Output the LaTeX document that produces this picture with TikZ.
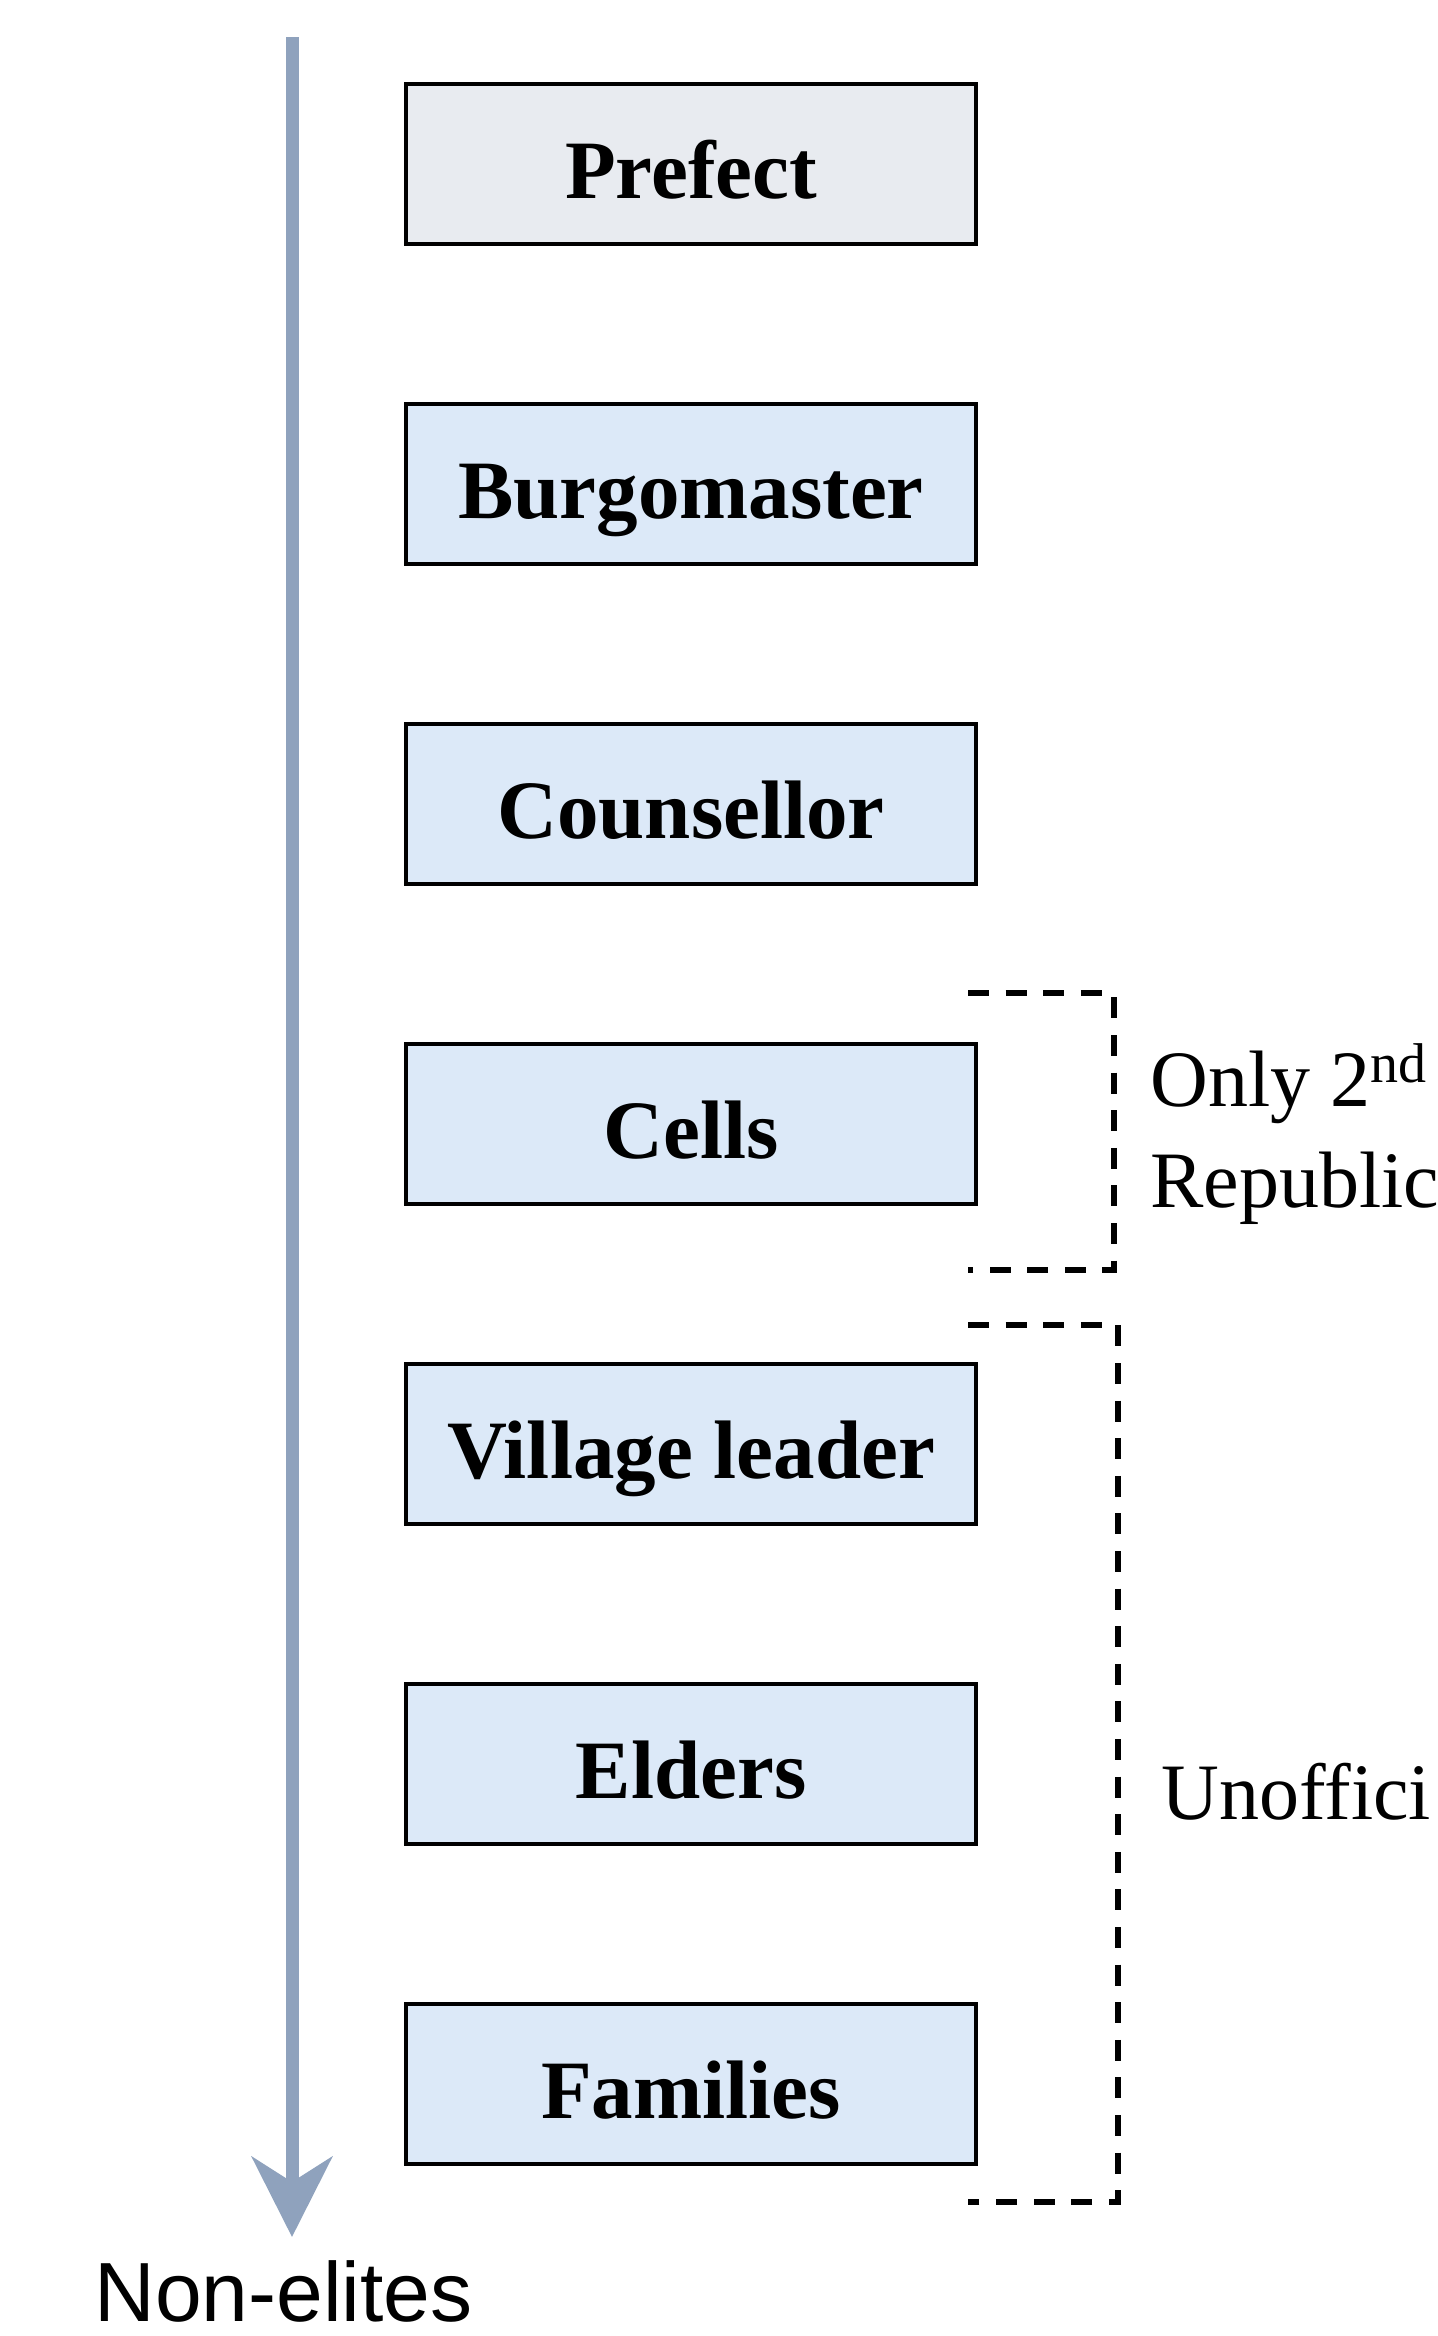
\documentclass[tikz,border=0pt]{standalone}
\usepackage{fontspec}
\setmainfont{Liberation Serif}
\newfontfamily\labelsans{Liberation Sans}
\usetikzlibrary{arrows.meta}
\definecolor{boxblue}{RGB}{220,233,248}
\definecolor{boxgray}{RGB}{232,235,240}
\definecolor{arrowc}{RGB}{143,162,189}
\tikzset{
  levelbox/.style={draw=black, line width=1.9pt, fill=boxblue, minimum width=285pt,
    minimum height=80pt, inner sep=0pt, text height=40pt, text depth=6pt,
    font=\fontsize{41.5}{48}\selectfont\bfseries},
  bracketline/.style={draw=black, line width=3pt, dash pattern=on 10.5pt off 8.3pt},
  sidetext/.style={anchor=base west, inner sep=0pt, font=\fontsize{40}{48}\selectfont},
  elitearrow/.style={draw=arrowc, line width=6.5pt,
    -{Stealth[length=40pt, width=40pt, inset=12.5pt, fill=arrowc]}},
}
\begin{document}
\begin{tikzpicture}[x=0.5pt,y=-0.5pt]
\useasboundingbox (0,0) rectangle (1438,2336);
\clip (0,0) rectangle (1438,2336);

% vertical arrow
\coordinate (atop) at (292,37);
\coordinate (abot) at (292,2237);
\draw[elitearrow] (atop) -- (abot);
\node[anchor=base, inner sep=0pt, font=\labelsans\fontsize{42}{48}\selectfont] (nonelites) at (283.5,2321) {Non-elites};

% boxes
\node[levelbox, fill=boxgray] (prefect) at (691,164) {Prefect};
\node[levelbox] (burgo) at (691,484) {Burgomaster};
\node[levelbox] (couns) at (691,804) {Counsellor};
\node[levelbox] (cells) at (691,1124) {Cells};
\node[levelbox] (village) at (691,1444) {Village leader};
\node[levelbox] (elders) at (691,1764) {Elders};
\node[levelbox] (families) at (691,2084) {Families};

% brackets
\coordinate (b1a) at (968,993);
\coordinate (b1b) at (1114,993);
\coordinate (b1c) at (1114,1270);
\coordinate (b1d) at (968,1270);
\draw[bracketline] (b1a) -- (b1b) -- (b1c) -- (b1d);

\coordinate (b2a) at (968,1325);
\coordinate (b2b) at (1118,1325);
\coordinate (b2c) at (1118,2202);
\coordinate (b2d) at (968,2202);
\draw[bracketline] (b2a) -- (b2b) -- (b2c) -- (b2d);

% side labels
\node[sidetext] (only) at (1150,1106) {Only 2\raisebox{12pt}{\fontsize{28}{28}\selectfont nd}};
\node[sidetext] (repub) at (1150,1207) {Republic};
\node[sidetext] (unoff) at (1161,1819) {Unoffici};
\end{tikzpicture}
\end{document}
